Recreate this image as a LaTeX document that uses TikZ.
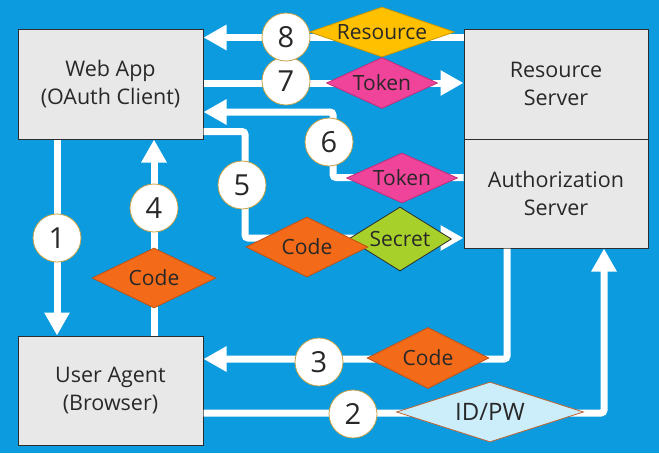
\documentclass[tikz,border=0pt]{standalone}
\usepackage[dvipsnames]{xcolor}
\usepackage{fontspec}
\setmainfont{Open Sans}
\usetikzlibrary{arrows.meta,shapes.geometric}

\definecolor{bgblue}{RGB}{12,155,222}
\definecolor{boxgray}{RGB}{232,232,232}
\definecolor{boxline}{RGB}{45,45,45}
\definecolor{ink}{RGB}{40,40,40}
\definecolor{ringgold}{RGB}{196,160,70}
\definecolor{codeorange}{RGB}{243,106,24}
\definecolor{codeedge}{RGB}{190,80,20}
\definecolor{tokenpink}{RGB}{240,68,154}
\definecolor{tokenedge}{RGB}{190,45,120}
\definecolor{resyellow}{RGB}{255,192,0}
\definecolor{resedge}{RGB}{200,150,0}
\definecolor{secgreen}{RGB}{168,208,42}
\definecolor{idblue}{RGB}{204,237,250}
\definecolor{idedge}{RGB}{190,100,50}

\begin{document}
\begin{tikzpicture}[x=1pt, y=-1pt,
    box/.style={draw=boxline, fill=boxgray, line width=1pt, text=ink,
      align=center, font=\fontsize{21.5}{28}\selectfont},
    flow/.style={draw=white, line width=7pt, rounded corners=3pt,
      -{Triangle[width=24pt,length=23pt]}},
    num/.style={circle, draw=ringgold, line width=0.8pt, fill=white,
      minimum size=48pt, inner sep=0pt, text=ink,
      font=\fontsize{29}{29}\selectfont},
    tag/.style={diamond, inner sep=0pt, line width=0.8pt,
      label={[text=ink, font=\fontsize{21}{21}\selectfont]center:#1}},
  ]
      \fill[bgblue] (0,0) rectangle (659,453);

      % boxes
      \node[box, minimum width=185pt, minimum height=110pt] (webapp) at (110.5,84)
            {Web App\\(OAuth Client)};
      \node[box, minimum width=184pt, minimum height=110pt] (ressrv) at (556,84)
            {Resource\\Server};
      \node[box, minimum width=184pt, minimum height=109pt] (authsrv) at (556,193.5)
            {Authorization\\Server};
      \node[box, minimum width=185pt, minimum height=109pt] (agent) at (110.5,390.5)
            {User Agent\\(Browser)};

      % flows
      \coordinate (k6) at (333,112);
      \coordinate (k5) at (245,238);
      \draw[flow] ([xshift=-53.5pt]webapp.south) -- ([xshift=-53.5pt]agent.north);
      \draw[flow] ([yshift=-22.5pt]agent.east) -| ([xshift=48pt]authsrv.south);
      \draw[flow] ([xshift=-49pt]authsrv.south) |- ([yshift=31.5pt]agent.east);
      \draw[flow] ([xshift=43.5pt]agent.north) -- ([xshift=43.5pt]webapp.south);
      \draw[flow] ([yshift=8pt]webapp.south east) -| (k5) -- (authsrv.west |- k5);
      \draw[flow] ([yshift=16pt]authsrv.west) -| (k6) -- (webapp.east |- k6);
      \draw[flow] ([yshift=1pt]webapp.east) -- ([yshift=1pt]ressrv.west);
      \draw[flow] ([yshift=-9pt]ressrv.north west) -- ([yshift=-9pt]webapp.north east);

      % payloads
      \node[tag=Resource, fill=resyellow, draw=resedge,
            minimum width=145pt, minimum height=50pt] (res8) at (382,32) {};
      \node[tag=Token, fill=tokenpink, draw=tokenedge,
            minimum width=111pt, minimum height=51pt] (tok7) at (382,83) {};
      \node[tag=Token, fill=tokenpink, draw=tokenedge,
            minimum width=111pt, minimum height=50pt] (tok6) at (402,178) {};
      \node[tag=Secret, fill=secgreen, draw=boxline,
            minimum width=103pt, minimum height=64pt] (sec5) at (400,239) {};
      \node[tag=Code, fill=codeorange, draw=codeedge,
            minimum width=122pt, minimum height=60pt] (code5) at (307,247) {};
      \node[tag=Code, fill=codeorange, draw=codeedge,
            minimum width=124pt, minimum height=60pt] (code4) at (154,278) {};
      \node[tag=Code, fill=codeorange, draw=codeedge,
            minimum width=122pt, minimum height=61pt] (code3) at (428,358) {};
      \node[diamond, inner sep=0pt, line width=0.8pt, fill=idblue, draw=idedge,
            minimum width=187pt, minimum height=60pt,
            label={[text=ink, font=\fontsize{24}{24}\selectfont]center:ID/PW}]
            (idpw) at (490,412) {};

      % steps
      \node[num] (s1) at (57,238) {1};
      \node[num] (s2) at (353,414) {2};
      \node[num] (s3) at (319,362) {3};
      \node[num] (s4) at (154,208) {4};
      \node[num] (s5) at (242,185) {5};
      \node[num] (s6) at (329,142) {6};
      \node[num] (s7) at (286,81) {7};
      \node[num] (s8) at (286,37) {8};
    \end{tikzpicture}
\end{document}
